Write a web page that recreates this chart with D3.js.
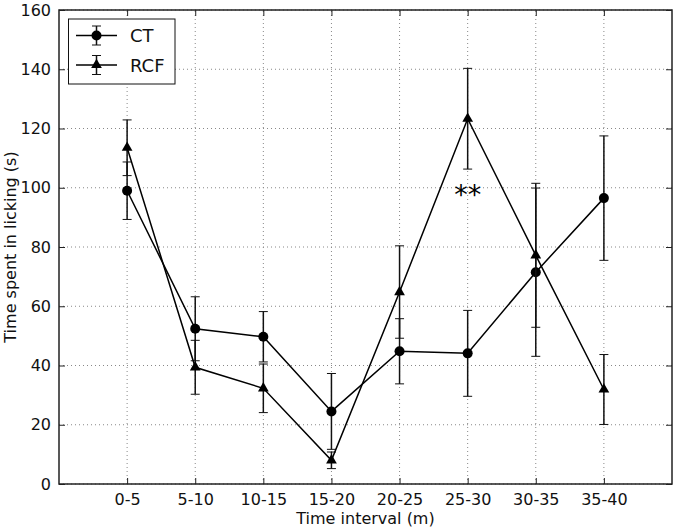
<!DOCTYPE html>
<html>
<head>
<meta charset="utf-8">
<script src="https://cdn.jsdelivr.net/npm/d3@7"></script>
<style>
  body { margin: 0; background: #fff; }
  text { font-family: "DejaVu Sans", sans-serif; }
</style>
</head>
<body>
<div id="chart"></div>
<script>
// data
const intervals = ["0-5", "5-10", "10-15", "15-20", "20-25", "25-30", "30-35", "35-40"];
const ctMean = [99, 52.4, 49.7, 24.5, 44.8, 44.1, 71.5, 96.5];
const ctErr  = [9.7, 10.8, 8.5, 12.8, 11, 14.5, 28.4, 21];
const rcfMean = [113.5, 39.4, 32.3, 8, 64.8, 123.3, 77.2, 31.9];
const rcfErr  = [9.4, 9.1, 8.2, 2.8, 15.6, 17, 24.3, 11.8];
const yTicks = [0, 20, 40, 60, 80, 100, 120, 140, 160];

const W = 675, H = 530;
const m = {left: 59, right: 3, top: 10, bottom: 46};

const svg = d3.select("#chart").append("svg").attr("width", W).attr("height", H);

const x = d3.scaleLinear().domain([0, 9]).range([m.left, W - m.right]);
const y = d3.scaleLinear().domain([0, 160]).range([H - m.bottom, m.top]);

// grid
const grid = svg.append("g").attr("stroke", "#888").attr("stroke-width", 1).attr("stroke-dasharray", "1,3");
grid.selectAll(".gx").data(intervals).enter().append("line")
    .attr("x1", (d, i) => x(i + 1)).attr("x2", (d, i) => x(i + 1))
    .attr("y1", y(0)).attr("y2", y(160));
grid.selectAll(".gy").data(yTicks).enter().append("line")
    .attr("x1", x(0)).attr("x2", x(9))
    .attr("y1", d => y(d)).attr("y2", d => y(d));

// axes (matplotlib classic: ticks inward, on all sides)
const xAxis = d3.axisBottom(x).tickValues(d3.range(1, 9)).tickFormat(d => intervals[d - 1]).tickSizeInner(-6).tickSizeOuter(0).tickPadding(10);
const gx = svg.append("g").attr("transform", `translate(0,${y(0)})`).call(xAxis);
const gxt = svg.append("g").attr("transform", `translate(0,${y(160)})`).call(d3.axisTop(x).tickValues(d3.range(1, 9)).tickFormat("").tickSizeInner(-6).tickSizeOuter(0));
const yAxis = d3.axisLeft(y).tickValues(yTicks).tickSizeInner(-6).tickSizeOuter(0).tickPadding(8);
const gy = svg.append("g").attr("transform", `translate(${x(0)},0)`).call(yAxis);
const gyr = svg.append("g").attr("transform", `translate(${x(9)},0)`).call(d3.axisRight(y).tickValues(yTicks).tickFormat("").tickSizeInner(-6).tickSizeOuter(0));
[gx, gxt, gy, gyr].forEach(g => {
  g.select(".domain").remove();
  g.selectAll(".tick line").attr("stroke", "#222").attr("stroke-width", 1);
  g.selectAll(".tick text").attr("font-size", 16).attr("fill", "#111");
});

// frame
svg.append("rect").attr("x", x(0)).attr("y", y(160)).attr("width", x(9) - x(0)).attr("height", y(0) - y(160))
    .attr("fill", "none").attr("stroke", "#222").attr("stroke-width", 1.5);

const tri = d3.symbol().type(d3.symbolTriangle).size(50);

function drawSeries(mean, err, marker) {
  const g = svg.append("g");
  const pts = mean.map((v, i) => ({i: i + 1, v: v, e: err[i]}));
  // error bars
  const eb = g.selectAll(".eb").data(pts).enter().append("g").attr("stroke", "#111").attr("stroke-width", 1.5);
  eb.append("line").attr("x1", d => x(d.i)).attr("x2", d => x(d.i)).attr("y1", d => y(d.v - d.e)).attr("y2", d => y(d.v + d.e));
  eb.append("line").attr("x1", d => x(d.i) - 4.5).attr("x2", d => x(d.i) + 4.5).attr("y1", d => y(d.v - d.e)).attr("y2", d => y(d.v - d.e)).attr("stroke-width", 1);
  eb.append("line").attr("x1", d => x(d.i) - 4.5).attr("x2", d => x(d.i) + 4.5).attr("y1", d => y(d.v + d.e)).attr("y2", d => y(d.v + d.e)).attr("stroke-width", 1);
  // line
  g.append("path").datum(pts).attr("fill", "none").attr("stroke", "#000").attr("stroke-width", 1.5)
    .attr("d", d3.line().x(d => x(d.i)).y(d => y(d.v)));
  // markers
  if (marker === "circle") {
    g.selectAll(".mk").data(pts).enter().append("circle").attr("cx", d => x(d.i)).attr("cy", d => y(d.v)).attr("r", 5).attr("fill", "#000");
  } else {
    g.selectAll(".mk").data(pts).enter().append("path").attr("d", tri).attr("transform", d => `translate(${x(d.i)},${y(d.v)})`).attr("fill", "#000");
  }
}
drawSeries(ctMean, ctErr, "circle");
drawSeries(rcfMean, rcfErr, "triangle");

// significance mark
svg.append("text").attr("x", x(6)).attr("y", y(94.6)).attr("text-anchor", "middle").attr("font-size", 27).attr("fill", "#000").text("**");

// legend
const lg = svg.append("g");
lg.append("rect").attr("x", 68.5).attr("y", 19).attr("width", 106.5).attr("height", 65).attr("fill", "#fff").attr("stroke", "#111").attr("stroke-width", 1);
const legendItems = [{name: "CT", marker: "circle", y: 35.5}, {name: "RCF", marker: "triangle", y: 65}];
legendItems.forEach(d => {
  const row = lg.append("g");
  row.append("line").attr("x1", 76).attr("x2", 117).attr("y1", d.y).attr("y2", d.y).attr("stroke", "#000").attr("stroke-width", 1.5);
  row.append("line").attr("x1", 96.5).attr("x2", 96.5).attr("y1", d.y - 9.5).attr("y2", d.y + 9.5).attr("stroke", "#111").attr("stroke-width", 1.5);
  row.append("line").attr("x1", 92).attr("x2", 101).attr("y1", d.y - 9.5).attr("y2", d.y - 9.5).attr("stroke", "#111");
  row.append("line").attr("x1", 92).attr("x2", 101).attr("y1", d.y + 9.5).attr("y2", d.y + 9.5).attr("stroke", "#111");
  if (d.marker === "circle") row.append("circle").attr("cx", 96.5).attr("cy", d.y).attr("r", 5);
  else row.append("path").attr("d", tri).attr("transform", `translate(96.5,${d.y})`);
  row.append("text").attr("x", 130).attr("y", d.y + 6.5).attr("font-size", 18).attr("fill", "#111").text(d.name);
});

// axis labels
svg.append("text").attr("x", (x(0) + x(9)) / 2).attr("y", 524).attr("text-anchor", "middle").attr("font-size", 16).attr("fill", "#111").text("Time interval (m)");
svg.append("text").attr("transform", `translate(16,${(y(0) + y(160)) / 2}) rotate(-90)`).attr("text-anchor", "middle").attr("font-size", 16).attr("fill", "#111").text("Time spent in licking (s)");
</script>
</body>
</html>
